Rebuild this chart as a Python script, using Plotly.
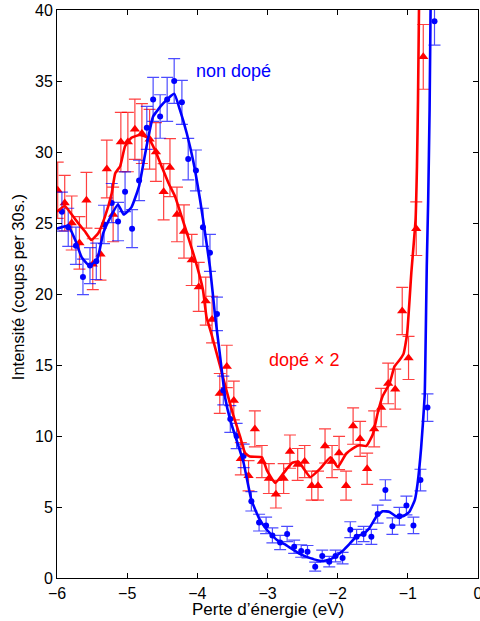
import plotly.graph_objects as go

# --- data points: non dopé (blue) ---
x_blue = [-5.93, -5.84, -5.73, -5.63, -5.53, -5.44, -5.33, -5.22, -5.13, -5.03,
          -4.93, -4.83, -4.72, -4.63, -4.53, -4.43, -4.33, -4.22, -4.13, -4.02,
          -3.92, -3.82, -3.72, -3.63, -3.53, -3.44, -3.34, -3.23, -3.12, -3.02,
          -2.93, -2.82, -2.72, -2.62, -2.52, -2.43, -2.32, -2.22, -2.12, -2.03,
          -1.93, -1.82, -1.73, -1.63, -1.52, -1.43, -1.32, -1.22, -1.12, -1.02,
          -0.92, -0.82, -0.72, -0.62]
y_blue = [25.8, 24.7, 23.4, 21.2, 22.0, 22.3, 24.9, 26.4, 25.1, 27.2,
          24.6, 28.0, 31.7, 33.7, 32.5, 33.7, 35.0, 33.5, 29.5, 28.7,
          24.7, 22.9, 18.6, 13.2, 11.2, 10.0, 8.6, 5.4, 3.9, 3.7,
          3.0, 2.5, 3.1, 2.2, 1.9, 1.85, 0.8, 1.55, 1.15, 1.55,
          1.4, 3.4, 2.9, 3.1, 2.9, 4.5, 6.2, 3.65, 4.35, 5.1,
          3.7, 6.9, 12.0, 39.2]
err_blue = [1.37, 1.34, 1.31, 1.25, 1.27, 1.28, 1.35, 1.38, 1.35, 1.40,
            1.34, 1.42, 1.51, 1.55, 1.53, 1.55, 1.58, 1.55, 1.46, 1.44,
            1.34, 1.30, 1.18, 1.01, 0.94, 0.89, 0.83, 0.68, 0.59, 0.58,
            0.53, 0.50, 0.54, 0.47, 0.44, 0.44, 0.32, 0.41, 0.37, 0.41,
            0.40, 0.56, 0.53, 0.54, 0.53, 0.63, 0.72, 0.58, 0.62, 0.66,
            0.58, 0.76, 0.97, 1.67]

# --- data points: dopé x 2 (red) ---
x_red = [-5.99, -5.89, -5.79, -5.68, -5.58, -5.49, -5.38, -5.29, -5.20, -5.09,
         -4.99, -4.89, -4.79, -4.68, -4.59, -4.48, -4.39, -4.29, -4.19, -4.08,
         -3.98, -3.88, -3.79, -3.68, -3.58, -3.48, -3.38, -3.27, -3.18, -3.08,
         -2.98, -2.88, -2.77, -2.68, -2.57, -2.47, -2.37, -2.28, -2.18, -2.08,
         -1.98, -1.88, -1.78, -1.68, -1.58, -1.48, -1.38, -1.28, -1.18, -1.08,
         -0.99, -0.88, -0.78]
y_red = [27.3, 26.4, 25.0, 23.6, 26.6, 22.1, 22.8, 28.8, 25.6, 30.7,
         30.7, 31.6, 31.3, 30.9, 30.0, 27.2, 28.9, 25.6, 24.4, 22.4,
         20.5, 19.5, 18.2, 13.0, 14.9, 12.5, 8.4, 7.2, 10.5, 8.2,
         7.0, 5.9, 7.0, 8.9, 8.0, 8.2, 6.5, 6.5, 9.3, 8.2,
         8.8, 6.5, 10.7, 9.8, 7.7, 10.5, 12.0, 13.7, 13.3, 18.8,
         15.5, 24.6, 36.7]
err_red = [1.98, 1.95, 1.90, 1.85, 1.96, 1.79, 1.82, 2.03, 1.92, 2.09,
           2.09, 2.12, 2.11, 2.10, 2.07, 1.98, 2.04, 1.92, 1.88, 1.80,
           1.73, 1.69, 1.64, 1.40, 1.49, 1.37, 1.14, 1.07, 1.27, 1.13,
           1.05, 0.97, 1.05, 1.17, 1.12, 1.13, 1.02, 1.02, 1.20, 1.13,
           1.17, 1.02, 1.28, 1.23, 1.10, 1.27, 1.35, 1.43, 1.41, 1.66,
           1.52, 1.89, 2.28]

# --- fitted curves ---
fit_blue_x = [-6.0, -5.84, -5.74, -5.65, -5.54, -5.43, -5.34, -5.24, -5.13, -5.05,
              -4.94, -4.83, -4.72, -4.63, -4.49, -4.33, -4.25, -4.15, -4.06, -3.96,
              -3.89, -3.82, -3.75, -3.68, -3.60, -3.53, -3.44, -3.34, -3.23, -3.12,
              -3.01, -2.87, -2.73, -2.54, -2.39, -2.23, -2.11, -2.01, -1.93, -1.83,
              -1.74, -1.64, -1.55, -1.45, -1.36, -1.26, -1.17, -1.07, -0.98, -0.90,
              -0.86, -0.81, -0.76, -0.75, -0.73, -0.71, -0.69, -0.675]
fit_blue_y = [24.6, 24.8, 23.8, 22.6, 22.0, 22.4, 24.3, 25.4, 26.3, 25.6,
              26.1, 27.6, 30.5, 32.5, 33.4, 34.1, 33.0, 31.3, 29.4, 26.6,
              24.3, 21.9, 18.6, 15.8, 12.6, 11.1, 9.7, 8.1, 5.5, 4.2,
              3.4, 2.7, 2.3, 1.7, 1.4, 1.2, 1.3, 1.6, 1.9, 2.4,
              2.9, 3.1, 3.5, 4.3, 4.7, 4.65, 4.35, 4.35, 4.65, 5.5,
              6.7, 9.2, 12.8, 15.4, 22.0, 26.6, 33.0, 40.5]

fit_red_x = [-6.0, -5.89, -5.79, -5.70, -5.60, -5.51, -5.41, -5.32, -5.22, -5.17,
             -5.10, -5.03, -4.94, -4.82, -4.70, -4.60, -4.51, -4.41, -4.32, -4.22,
             -4.13, -4.03, -3.92, -3.87, -3.80, -3.68, -3.59, -3.49, -3.39, -3.32,
             -3.25, -3.08, -3.01, -2.89, -2.77, -2.65, -2.56, -2.39, -2.25, -2.10,
             -2.00, -1.88, -1.76, -1.69, -1.59, -1.50, -1.43, -1.36, -1.26, -1.19,
             -1.11, -1.06, -1.01, -0.95, -0.89, -0.87, -0.855, -0.84]
fit_red_y = [25.8, 26.2, 25.6, 25.0, 24.4, 23.8, 24.3, 25.4, 27.1, 28.5,
             29.0, 30.4, 31.0, 31.2, 31.0, 30.1, 29.0, 27.8, 26.9, 25.4,
             24.0, 22.4, 20.3, 18.4, 17.2, 15.0, 13.3, 11.5, 9.95, 8.8,
             8.55, 8.5, 7.6, 6.7, 7.4, 8.1, 8.2, 7.1, 7.7, 8.5,
             7.8, 8.75, 9.2, 9.35, 9.3, 10.1, 11.6, 12.8, 13.7, 14.9,
             15.4, 15.8, 17.2, 21.5, 25.2, 29.0, 33.7, 40.5]

x_ticks = [-6, -5, -4, -3, -2, -1, 0]
y_ticks = [0, 5, 10, 15, 20, 25, 30, 35, 40]

BLUE = "#0000ff"
RED = "#ff0000"
FONT = "Arial, Liberation Sans, sans-serif"

fig = go.Figure()

fig.add_trace(go.Scatter(
    x=x_red, y=y_red, mode="markers",
    marker=dict(symbol="triangle-up", size=9, color=RED),
    error_y=dict(type="data", array=err_red, visible=True,
                 color="rgba(255,0,0,0.75)", thickness=1.2, width=6),
    showlegend=False))

fig.add_trace(go.Scatter(
    x=x_blue, y=y_blue, mode="markers",
    marker=dict(symbol="circle", size=6, color=BLUE),
    error_y=dict(type="data", array=err_blue, visible=True,
                 color="rgba(0,0,255,0.7)", thickness=1.2, width=6),
    showlegend=False))

fig.add_trace(go.Scatter(
    x=fit_red_x, y=fit_red_y, mode="lines",
    line=dict(color=RED, width=2.6, shape="spline", smoothing=0.4),
    showlegend=False))

fig.add_trace(go.Scatter(
    x=fit_blue_x, y=fit_blue_y, mode="lines",
    line=dict(color=BLUE, width=2.6, shape="spline", smoothing=0.4),
    showlegend=False))

fig.add_annotation(x=-4.05, y=35.72, text="non dopé", showarrow=False,
                   xanchor="left", yanchor="middle",
                   font=dict(family=FONT, size=18, color=BLUE))
fig.add_annotation(x=-3.01, y=15.35, text="dopé \u00d7 2", showarrow=False,
                   xanchor="left", yanchor="middle",
                   font=dict(family=FONT, size=18, color=RED))

# axis titles placed as paper annotations
fig.add_annotation(xref="paper", yref="paper", x=0.501, y=-0.0553,
                   text="Perte d\u2019énergie (eV)", showarrow=False,
                   xanchor="center", yanchor="middle",
                   font=dict(family=FONT, size=17, color="black"))
fig.add_annotation(xref="paper", yref="paper", x=-0.0926, y=0.512,
                   text="Intensité (coups per 30s.)", showarrow=False,
                   textangle=-90, xanchor="center", yanchor="middle",
                   font=dict(family=FONT, size=16.5, color="black"))

axis_common = dict(
    showline=True, linecolor="black", linewidth=1, mirror="ticks",
    ticks="inside", ticklen=5, tickcolor="black", tickwidth=1,
    showgrid=False, zeroline=False, automargin=False,
    tickfont=dict(family=FONT, size=16, color="black"),
)

fig.update_xaxes(range=[-6, 0], tickvals=x_ticks, ticklabelstandoff=1,
                 ticklabeloverflow="allow", **axis_common)
fig.update_yaxes(range=[0, 40], tickvals=y_ticks, **axis_common)

fig.update_layout(
    width=480, height=621,
    margin=dict(l=57, r=2, t=10, b=43),
    plot_bgcolor="white", paper_bgcolor="white",
    font=dict(family=FONT),
)

fig.write_html("out.html",
               config={"displayModeBar": False},
               post_script="document.body.style.margin='0px';")
